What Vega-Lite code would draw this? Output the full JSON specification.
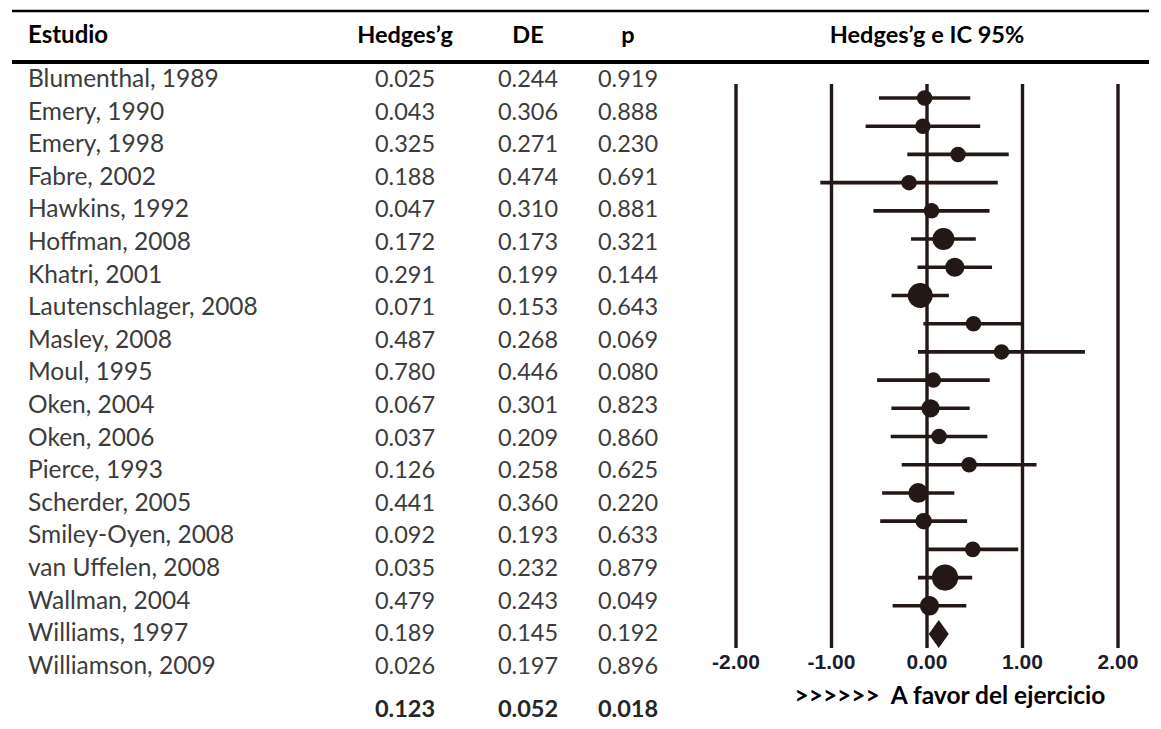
{
  "$schema": "https://vega.github.io/schema/vega-lite/v6.json",
  "width": 1161,
  "height": 729,
  "autosize": {"type": "fit", "contains": "padding"},
  "padding": {"left": 10, "right": 10, "top": 0, "bottom": 0},
  "background": "white",
  "config": {
    "view": {"stroke": null},
    "axis": {"disable": true},
    "legend": {"disable": true},
    "text": {"font": "Lato"}
  },
  "datasets": {
    "estudios": [
      {"Estudio": "Blumenthal, 1989", "fila": 0, "g": 0.025, "DE": 0.244, "p": 0.919, "efecto": -0.025, "li": -0.503, "ls": 0.453, "peso": 16.8},
      {"Estudio": "Emery, 1990", "fila": 1, "g": 0.043, "DE": 0.306, "p": 0.888, "efecto": -0.043, "li": -0.643, "ls": 0.557, "peso": 10.7},
      {"Estudio": "Emery, 1998", "fila": 2, "g": 0.325, "DE": 0.271, "p": 0.230, "efecto": 0.325, "li": -0.206, "ls": 0.856, "peso": 13.6},
      {"Estudio": "Fabre, 2002", "fila": 3, "g": 0.188, "DE": 0.474, "p": 0.691, "efecto": -0.188, "li": -1.117, "ls": 0.741, "peso": 4.5},
      {"Estudio": "Hawkins, 1992", "fila": 4, "g": 0.047, "DE": 0.310, "p": 0.881, "efecto": 0.047, "li": -0.561, "ls": 0.655, "peso": 10.4},
      {"Estudio": "Hoffman, 2008", "fila": 5, "g": 0.172, "DE": 0.173, "p": 0.321, "efecto": 0.172, "li": -0.167, "ls": 0.511, "peso": 33.4},
      {"Estudio": "Khatri, 2001", "fila": 6, "g": 0.291, "DE": 0.199, "p": 0.144, "efecto": 0.291, "li": -0.099, "ls": 0.681, "peso": 25.3},
      {"Estudio": "Lautenschlager, 2008", "fila": 7, "g": 0.071, "DE": 0.153, "p": 0.643, "efecto": -0.071, "li": -0.371, "ls": 0.229, "peso": 42.7},
      {"Estudio": "Masley, 2008", "fila": 8, "g": 0.487, "DE": 0.268, "p": 0.069, "efecto": 0.487, "li": -0.038, "ls": 1.012, "peso": 13.9},
      {"Estudio": "Moul, 1995", "fila": 9, "g": 0.780, "DE": 0.446, "p": 0.080, "efecto": 0.780, "li": -0.094, "ls": 1.654, "peso": 5.0},
      {"Estudio": "Oken, 2004", "fila": 10, "g": 0.067, "DE": 0.301, "p": 0.823, "efecto": 0.067, "li": -0.523, "ls": 0.657, "peso": 11.0},
      {"Estudio": "Oken, 2006", "fila": 11, "g": 0.037, "DE": 0.209, "p": 0.860, "efecto": 0.037, "li": -0.373, "ls": 0.447, "peso": 22.9},
      {"Estudio": "Pierce, 1993", "fila": 12, "g": 0.126, "DE": 0.258, "p": 0.625, "efecto": 0.126, "li": -0.380, "ls": 0.632, "peso": 15.0},
      {"Estudio": "Scherder, 2005", "fila": 13, "g": 0.441, "DE": 0.360, "p": 0.220, "efecto": 0.441, "li": -0.265, "ls": 1.147, "peso": 7.7},
      {"Estudio": "Smiley-Oyen, 2008", "fila": 14, "g": 0.092, "DE": 0.193, "p": 0.633, "efecto": -0.092, "li": -0.470, "ls": 0.286, "peso": 26.8},
      {"Estudio": "van Uffelen, 2008", "fila": 15, "g": 0.035, "DE": 0.232, "p": 0.879, "efecto": -0.035, "li": -0.490, "ls": 0.420, "peso": 18.6},
      {"Estudio": "Wallman, 2004", "fila": 16, "g": 0.479, "DE": 0.243, "p": 0.049, "efecto": 0.479, "li": 0.003, "ls": 0.955, "peso": 16.9},
      {"Estudio": "Williams, 1997", "fila": 17, "g": 0.189, "DE": 0.145, "p": 0.192, "efecto": 0.189, "li": -0.095, "ls": 0.473, "peso": 47.6},
      {"Estudio": "Williamson, 2009", "fila": 18, "g": 0.026, "DE": 0.197, "p": 0.896, "efecto": 0.026, "li": -0.360, "ls": 0.412, "peso": 25.8}
    ],
    "global": [
      {"Estudio": "Global", "fila": 19, "g": 0.123, "DE": 0.052, "p": 0.018, "efecto": 0.123, "li": 0.021, "ls": 0.225}
    ],
    "referencias": [
      {"valor": -2, "etiqueta": "-2.00"},
      {"valor": -1, "etiqueta": "-1.00"},
      {"valor": 0, "etiqueta": "0.00"},
      {"valor": 1, "etiqueta": "1.00"},
      {"valor": 2, "etiqueta": "2.00"}
    ]
  },
  "resolve": {"scale": {"x": "independent", "y": "independent", "size": "independent"}},
  "layer": [
    {
      "layer": [
        {
          "data": {"values": [{}]},
          "mark": {"type": "rule", "color": "#000000", "strokeWidth": 2.5},
          "encoding": {
            "y": {"datum": -2.117, "type": "quantitative", "scale": {"domain": [0, 19], "range": [80, 699.4]}}
          }
        },
        {
          "data": {"values": [{}]},
          "mark": {"type": "rule", "color": "#000000", "strokeWidth": 4},
          "encoding": {
            "y": {"datum": -0.552, "type": "quantitative", "scale": {"domain": [0, 19], "range": [80, 699.4]}}
          }
        },
        {
          "data": {"values": [{"titulo": "Estudio", "col": 0}]},
          "mark": {"type": "text", "fontWeight": "bold", "fontSize": 24, "color": "#000000", "baseline": "middle", "align": "left"},
          "encoding": {
            "x": {"field": "col", "type": "quantitative", "scale": {"domain": [0, 1, 2, 3], "range": [16, 393, 516, 616]}},
            "y": {"datum": -1.35, "type": "quantitative", "scale": {"domain": [0, 19], "range": [80, 699.4]}},
            "text": {"field": "titulo"}
          }
        },
        {
          "data": {"values": [
            {"titulo": "Hedges’g", "col": 1},
            {"titulo": "DE", "col": 2},
            {"titulo": "p", "col": 3}
          ]},
          "mark": {"type": "text", "fontWeight": "bold", "fontSize": 23.5, "color": "#000000", "baseline": "middle", "align": "center"},
          "encoding": {
            "x": {"field": "col", "type": "quantitative", "scale": {"domain": [0, 1, 2, 3], "range": [16, 393, 516, 616]}},
            "y": {"datum": -1.35, "type": "quantitative", "scale": {"domain": [0, 19], "range": [80, 699.4]}},
            "text": {"field": "titulo"}
          }
        },
        {
          "data": {"name": "estudios"},
          "mark": {"type": "text", "align": "left", "baseline": "middle", "fontSize": 24.5, "color": "#3c3c3c"},
          "encoding": {
            "x": {"datum": 0, "type": "quantitative", "scale": {"domain": [0, 1, 2, 3], "range": [16, 393, 516, 616]}},
            "y": {"field": "fila", "type": "quantitative", "scale": {"domain": [0, 19], "range": [80, 699.4]}},
            "text": {"field": "Estudio"}
          }
        },
        {
          "data": {"name": "estudios"},
          "mark": {"type": "text", "align": "center", "baseline": "middle", "fontSize": 23.5, "color": "#3c3c3c"},
          "encoding": {
            "x": {"datum": 1, "type": "quantitative", "scale": {"domain": [0, 1, 2, 3], "range": [16, 393, 516, 616]}},
            "y": {"field": "fila", "type": "quantitative", "scale": {"domain": [0, 19], "range": [80, 699.4]}},
            "text": {"field": "g", "format": ".3f"}
          }
        },
        {
          "data": {"name": "estudios"},
          "mark": {"type": "text", "align": "center", "baseline": "middle", "fontSize": 23.5, "color": "#3c3c3c"},
          "encoding": {
            "x": {"datum": 2, "type": "quantitative", "scale": {"domain": [0, 1, 2, 3], "range": [16, 393, 516, 616]}},
            "y": {"field": "fila", "type": "quantitative", "scale": {"domain": [0, 19], "range": [80, 699.4]}},
            "text": {"field": "DE", "format": ".3f"}
          }
        },
        {
          "data": {"name": "estudios"},
          "mark": {"type": "text", "align": "center", "baseline": "middle", "fontSize": 23.5, "color": "#3c3c3c"},
          "encoding": {
            "x": {"datum": 3, "type": "quantitative", "scale": {"domain": [0, 1, 2, 3], "range": [16, 393, 516, 616]}},
            "y": {"field": "fila", "type": "quantitative", "scale": {"domain": [0, 19], "range": [80, 699.4]}},
            "text": {"field": "p", "format": ".3f"}
          }
        },
        {
          "data": {"name": "global"},
          "mark": {"type": "text", "align": "center", "baseline": "middle", "fontSize": 23.5, "fontWeight": "bold", "color": "#262626", "yOffset": 11},
          "encoding": {
            "x": {"datum": 1, "type": "quantitative", "scale": {"domain": [0, 1, 2, 3], "range": [16, 393, 516, 616]}},
            "y": {"field": "fila", "type": "quantitative", "scale": {"domain": [0, 19], "range": [80, 699.4]}},
            "text": {"field": "g", "format": ".3f"}
          }
        },
        {
          "data": {"name": "global"},
          "mark": {"type": "text", "align": "center", "baseline": "middle", "fontSize": 23.5, "fontWeight": "bold", "color": "#262626", "yOffset": 11},
          "encoding": {
            "x": {"datum": 2, "type": "quantitative", "scale": {"domain": [0, 1, 2, 3], "range": [16, 393, 516, 616]}},
            "y": {"field": "fila", "type": "quantitative", "scale": {"domain": [0, 19], "range": [80, 699.4]}},
            "text": {"field": "DE", "format": ".3f"}
          }
        },
        {
          "data": {"name": "global"},
          "mark": {"type": "text", "align": "center", "baseline": "middle", "fontSize": 23.5, "fontWeight": "bold", "color": "#262626", "yOffset": 11},
          "encoding": {
            "x": {"datum": 3, "type": "quantitative", "scale": {"domain": [0, 1, 2, 3], "range": [16, 393, 516, 616]}},
            "y": {"field": "fila", "type": "quantitative", "scale": {"domain": [0, 19], "range": [80, 699.4]}},
            "text": {"field": "p", "format": ".3f"}
          }
        }
      ]
    },
    {
      "layer": [
        {
          "data": {"values": [{}]},
          "mark": {"type": "text", "fontWeight": "bold", "fontSize": 23.5, "color": "#000000", "align": "center", "baseline": "middle", "text": "Hedges’g e IC 95%"},
          "encoding": {
            "x": {"datum": 0, "type": "quantitative", "scale": {"domain": [-2, 2], "range": [724, 1106]}},
            "y": {"datum": -2.2, "type": "quantitative", "scale": {"domain": [0, 19], "range": [98, 634]}}
          }
        },
        {
          "data": {"name": "referencias"},
          "mark": {"type": "rule", "color": "#231815", "strokeWidth": 3.4},
          "encoding": {
            "x": {"field": "valor", "type": "quantitative", "scale": {"domain": [-2, 2], "range": [724, 1106]}},
            "y": {"datum": -0.5, "type": "quantitative", "scale": {"domain": [0, 19], "range": [98, 634]}},
            "y2": {"datum": 19.5}
          }
        },
        {
          "data": {"name": "estudios"},
          "mark": {"type": "rule", "color": "#231815", "strokeWidth": 3.6},
          "encoding": {
            "x": {"field": "li", "type": "quantitative", "scale": {"domain": [-2, 2], "range": [724, 1106]}},
            "x2": {"field": "ls"},
            "y": {"field": "fila", "type": "quantitative", "scale": {"domain": [0, 19], "range": [98, 634]}}
          }
        },
        {
          "data": {"name": "estudios"},
          "mark": {"type": "point", "shape": "circle", "filled": true, "color": "#231815", "opacity": 1},
          "encoding": {
            "x": {"field": "efecto", "type": "quantitative", "scale": {"domain": [-2, 2], "range": [724, 1106]}},
            "y": {"field": "fila", "type": "quantitative", "scale": {"domain": [0, 19], "range": [98, 634]}},
            "size": {"field": "peso", "type": "quantitative", "scale": {"type": "linear", "domain": [16.5, 47.6], "range": [240, 690], "clamp": true}}
          }
        },
        {
          "data": {"name": "global"},
          "mark": {"type": "point", "shape": "M0,-1L0.714,0L0,1L-0.714,0Z", "filled": true, "color": "#231815", "opacity": 1, "size": 784},
          "encoding": {
            "x": {"field": "efecto", "type": "quantitative", "scale": {"domain": [-2, 2], "range": [724, 1106]}},
            "y": {"field": "fila", "type": "quantitative", "scale": {"domain": [0, 19], "range": [98, 634]}}
          }
        },
        {
          "data": {"name": "referencias"},
          "mark": {"type": "text", "font": "Liberation Sans", "fontWeight": "bold", "fontSize": 21, "color": "#1c1c2c", "align": "center", "baseline": "middle"},
          "encoding": {
            "x": {"field": "valor", "type": "quantitative", "scale": {"domain": [-2, 2], "range": [724, 1106]}},
            "y": {"datum": 20.03, "type": "quantitative", "scale": {"domain": [0, 19], "range": [98, 634]}},
            "text": {"field": "etiqueta"}
          }
        },
        {
          "data": {"values": [{}]},
          "mark": {"type": "text", "fontWeight": "bold", "fontSize": 24.5, "color": "#000000", "align": "center", "baseline": "middle", "text": ">>>>>>\u00a0 A favor del ejercicio"},
          "encoding": {
            "x": {"datum": 0.24, "type": "quantitative", "scale": {"domain": [-2, 2], "range": [724, 1106]}},
            "y": {"datum": 21.24, "type": "quantitative", "scale": {"domain": [0, 19], "range": [98, 634]}}
          }
        }
      ]
    }
  ]
}
